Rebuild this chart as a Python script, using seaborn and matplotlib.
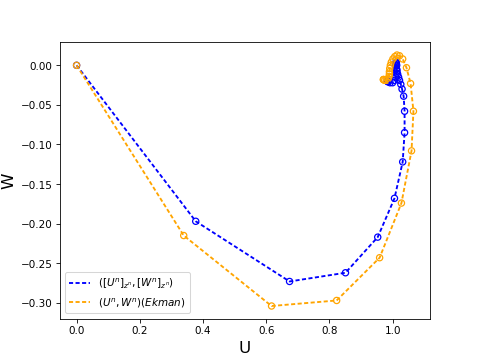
import numpy as np
import pandas as pd
import seaborn as sb
import matplotlib
matplotlib.use("Agg")
import matplotlib.pyplot as plt

# moyennes verticales (bleu)
U_z = [0.0, 0.377, 0.674, 0.851, 0.953, 1.006, 1.032, 1.038, 1.038, 1.035,
       1.030, 1.026, 1.022, 1.019, 1.016, 1.014, 1.012, 1.011, 1.010, 1.010,
       1.011, 1.012, 1.013, 1.013, 1.012, 1.010, 1.006, 1.000, 0.992, 0.986,
       0.984, 0.984, 0.984]
W_z = [0.0, -0.197, -0.273, -0.262, -0.217, -0.168, -0.122, -0.085, -0.058, -0.039,
       -0.030, -0.024, -0.019, -0.015, -0.011, -0.007, -0.004, -0.001, 0.001, 0.003,
       0.004, 0.003, 0.000, -0.005, -0.010, -0.015, -0.019, -0.022, -0.022, -0.021,
       -0.020, -0.020, -0.020]

# solution Ekman (orange)
U_ek = [0.0, 0.339, 0.617, 0.823, 0.959, 1.028, 1.060, 1.066, 1.057, 1.044,
        1.032, 1.022, 1.014, 1.007, 1.001, 0.996, 0.993, 0.991, 0.990, 0.990,
        0.989, 0.986, 0.980, 0.975, 0.972, 0.971, 0.971]
W_ek = [0.0, -0.215, -0.304, -0.297, -0.243, -0.174, -0.108, -0.058, -0.023, -0.003,
        0.008, 0.012, 0.013, 0.011, 0.008, 0.004, 0.000, -0.004, -0.008, -0.011,
        -0.014, -0.017, -0.019, -0.019, -0.018, -0.018, -0.018]

bleu = pd.DataFrame({"U": U_z, "W": W_z})
ekman = pd.DataFrame({"U": U_ek, "W": W_ek})

fig, ax = plt.subplots(figsize=(6.4, 4.8), dpi=74.7)

tirets = (0, (2.2, 1.3))
sb.lineplot(x="U", y="W", data=bleu, sort=False, estimator=None, color="blue",
            linestyle=tirets, linewidth=1.8, label=r"$([U^n]_{z^n},[W^n]_{z^n})$", ax=ax)
sb.lineplot(x="U", y="W", data=ekman, sort=False, estimator=None, color="orange",
            linestyle=tirets, linewidth=1.8, label=r"$(U^n,W^n)(Ekman)$", ax=ax)
sb.scatterplot(x="U", y="W", data=bleu, facecolor="none", edgecolor="blue",
               linewidth=1.2, s=36, ax=ax, legend=False)
sb.scatterplot(x="U", y="W", data=ekman, facecolor="none", edgecolor="orange",
               linewidth=1.2, s=36, ax=ax, legend=False)

ax.set_xlabel("U", size=16)
ax.set_ylabel("W", size=16)
ax.legend(loc="lower left")

plt.savefig("out.png", dpi=74.7)
